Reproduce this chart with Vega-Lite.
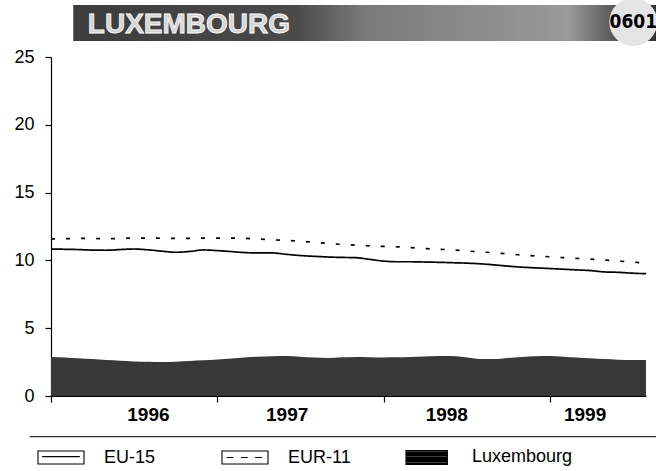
{
  "$schema": "https://vega.github.io/schema/vega-lite/v6.json",
  "width": 595,
  "height": 339,
  "autosize": {"type": "none"},
  "padding": {"left": 51, "top": 57, "right": 10, "bottom": 75},
  "background": "white",
  "config": {
    "view": {"stroke": null},
    "font": "Liberation Sans",
    "axis": {"grid": false, "domainColor": "black", "tickColor": "black", "labelColor": "black", "domainWidth": 1.2, "tickWidth": 1.2}
  },
  "datasets": {
    "rates": [
      {"date": "1996-01-01", "EU-15": 10.84, "EUR-11": 11.58, "Luxembourg": 2.88},
      {"date": "1996-02-01", "EU-15": 10.82, "EUR-11": 11.6, "Luxembourg": 2.84},
      {"date": "1996-03-01", "EU-15": 10.8, "EUR-11": 11.62, "Luxembourg": 2.78},
      {"date": "1996-04-01", "EU-15": 10.76, "EUR-11": 11.62, "Luxembourg": 2.72},
      {"date": "1996-05-01", "EU-15": 10.75, "EUR-11": 11.6, "Luxembourg": 2.65},
      {"date": "1996-06-01", "EU-15": 10.8, "EUR-11": 11.62, "Luxembourg": 2.6},
      {"date": "1996-07-01", "EU-15": 10.84, "EUR-11": 11.65, "Luxembourg": 2.55},
      {"date": "1996-08-01", "EU-15": 10.78, "EUR-11": 11.65, "Luxembourg": 2.52},
      {"date": "1996-09-01", "EU-15": 10.68, "EUR-11": 11.63, "Luxembourg": 2.5},
      {"date": "1996-10-01", "EU-15": 10.6, "EUR-11": 11.62, "Luxembourg": 2.53},
      {"date": "1996-11-01", "EU-15": 10.66, "EUR-11": 11.62, "Luxembourg": 2.58},
      {"date": "1996-12-01", "EU-15": 10.77, "EUR-11": 11.64, "Luxembourg": 2.63},
      {"date": "1997-01-01", "EU-15": 10.72, "EUR-11": 11.65, "Luxembourg": 2.7},
      {"date": "1997-02-01", "EU-15": 10.65, "EUR-11": 11.65, "Luxembourg": 2.77},
      {"date": "1997-03-01", "EU-15": 10.58, "EUR-11": 11.63, "Luxembourg": 2.84},
      {"date": "1997-04-01", "EU-15": 10.55, "EUR-11": 11.58, "Luxembourg": 2.9},
      {"date": "1997-05-01", "EU-15": 10.55, "EUR-11": 11.52, "Luxembourg": 2.94},
      {"date": "1997-06-01", "EU-15": 10.45, "EUR-11": 11.47, "Luxembourg": 2.95},
      {"date": "1997-07-01", "EU-15": 10.36, "EUR-11": 11.42, "Luxembourg": 2.9},
      {"date": "1997-08-01", "EU-15": 10.3, "EUR-11": 11.33, "Luxembourg": 2.84},
      {"date": "1997-09-01", "EU-15": 10.25, "EUR-11": 11.25, "Luxembourg": 2.8},
      {"date": "1997-10-01", "EU-15": 10.22, "EUR-11": 11.18, "Luxembourg": 2.85},
      {"date": "1997-11-01", "EU-15": 10.2, "EUR-11": 11.12, "Luxembourg": 2.88},
      {"date": "1997-12-01", "EU-15": 10.08, "EUR-11": 11.07, "Luxembourg": 2.86},
      {"date": "1998-01-01", "EU-15": 9.95, "EUR-11": 11.03, "Luxembourg": 2.84},
      {"date": "1998-02-01", "EU-15": 9.9, "EUR-11": 11.0, "Luxembourg": 2.85},
      {"date": "1998-03-01", "EU-15": 9.9, "EUR-11": 10.95, "Luxembourg": 2.88},
      {"date": "1998-04-01", "EU-15": 9.88, "EUR-11": 10.88, "Luxembourg": 2.92},
      {"date": "1998-05-01", "EU-15": 9.86, "EUR-11": 10.82, "Luxembourg": 2.95},
      {"date": "1998-06-01", "EU-15": 9.83, "EUR-11": 10.78, "Luxembourg": 2.95},
      {"date": "1998-07-01", "EU-15": 9.8, "EUR-11": 10.7, "Luxembourg": 2.85},
      {"date": "1998-08-01", "EU-15": 9.75, "EUR-11": 10.63, "Luxembourg": 2.72},
      {"date": "1998-09-01", "EU-15": 9.67, "EUR-11": 10.56, "Luxembourg": 2.72},
      {"date": "1998-10-01", "EU-15": 9.58, "EUR-11": 10.48, "Luxembourg": 2.8},
      {"date": "1998-11-01", "EU-15": 9.5, "EUR-11": 10.4, "Luxembourg": 2.88},
      {"date": "1998-12-01", "EU-15": 9.45, "EUR-11": 10.33, "Luxembourg": 2.94},
      {"date": "1999-01-01", "EU-15": 9.4, "EUR-11": 10.27, "Luxembourg": 2.95},
      {"date": "1999-02-01", "EU-15": 9.35, "EUR-11": 10.2, "Luxembourg": 2.9},
      {"date": "1999-03-01", "EU-15": 9.3, "EUR-11": 10.15, "Luxembourg": 2.84},
      {"date": "1999-04-01", "EU-15": 9.25, "EUR-11": 10.1, "Luxembourg": 2.78},
      {"date": "1999-05-01", "EU-15": 9.15, "EUR-11": 10.03, "Luxembourg": 2.72},
      {"date": "1999-06-01", "EU-15": 9.12, "EUR-11": 9.95, "Luxembourg": 2.68},
      {"date": "1999-07-01", "EU-15": 9.06, "EUR-11": 9.88, "Luxembourg": 2.66},
      {"date": "1999-08-01", "EU-15": 9.02, "EUR-11": 9.8, "Luxembourg": 2.65}
    ],
    "one": [{}]
  },
  "layer": [
    {
      "data": {"name": "one"},
      "mark": {"type": "rect", "fill": {"x1": 0, "y1": 0, "x2": 1, "y2": 0, "gradient": "linear", "stops": [
        {"offset": 0, "color": "#3c3c3c"}, {"offset": 0.38, "color": "#4a4a4a"}, {"offset": 0.5, "color": "#7a7a7a"}, {"offset": 0.85, "color": "#9a9a9a"}, {"offset": 0.93, "color": "#555555"}, {"offset": 1, "color": "#333333"}]}},
      "encoding": {
        "x": {"datum": {"year": 1996, "month": 2, "date": 19, "utc": true}, "type": "temporal"},
        "x2": {"datum": {"year": 1999, "month": 8, "date": 25, "utc": true}},
        "y": {"datum": 28.83, "type": "quantitative"},
        "y2": {"datum": 26.18}
      }
    },
    {
      "data": {"name": "one"},
      "mark": {"type": "point", "shape": "circle", "filled": true, "color": "#e4e4e4", "opacity": 1, "size": 2300},
      "encoding": {
        "x": {"datum": {"year": 1999, "month": 7, "date": 4, "utc": true}, "type": "temporal"},
        "y": {"datum": 27.58, "type": "quantitative"}
      }
    },
    {
      "data": {"name": "one"},
      "mark": {"type": "text", "text": "LUXEMBOURG", "font": "Liberation Sans", "fontWeight": "bold", "fontSize": 28, "align": "left", "baseline": "alphabetic", "fill": "#d4d4d4", "stroke": "white", "strokeWidth": 0.8},
      "encoding": {
        "x": {"datum": {"year": 1996, "month": 3, "date": 22, "utc": true}, "type": "temporal"},
        "y": {"datum": 26.77, "type": "quantitative"}
      }
    },
    {
      "data": {"name": "one"},
      "mark": {"type": "text", "text": "0601", "font": "DejaVu Sans Condensed, Liberation Sans", "fontWeight": "bold", "fontSize": 19, "align": "center", "baseline": "middle", "color": "black"},
      "encoding": {
        "x": {"datum": {"year": 1999, "month": 7, "date": 4, "utc": true}, "type": "temporal"},
        "y": {"datum": 27.58, "type": "quantitative"}
      }
    },
    {
      "data": {"name": "rates"},
      "transform": [{"fold": ["Luxembourg"], "as": ["series", "value"]}],
      "mark": {"type": "area", "color": "#383838", "interpolate": "monotone"},
      "encoding": {
        "x": {
          "field": "date", "type": "temporal",
          "scale": {"type": "utc", "domain": [{"year": 1996, "month": 1, "date": 1, "utc": true}, {"year": 1999, "month": 8, "date": 1, "utc": true}]},
          "axis": {
            "title": null,
            "values": [
              {"year": 1996, "month": 1, "date": 1, "utc": true},
              {"year": 1997, "month": 1, "date": 1, "utc": true},
              {"year": 1998, "month": 1, "date": 1, "utc": true},
              {"year": 1999, "month": 1, "date": 1, "utc": true},
              {"year": 1996, "month": 8, "date": 1, "utc": true},
              {"year": 1997, "month": 6, "date": 2, "utc": true},
              {"year": 1998, "month": 5, "date": 19, "utc": true},
              {"year": 1999, "month": 3, "date": 19, "utc": true}
            ],
            "labelExpr": "(utcmonth(datum.value) === 0 && utcdate(datum.value) === 1) ? '' : utcFormat(datum.value, '%Y')",
            "tickOpacity": {"condition": {"test": "utcmonth(datum.value) === 0 && utcdate(datum.value) === 1", "value": 1}, "value": 0},
            "tickSize": 6,
            "labelOverlap": false,
            "labelFont": "Liberation Sans",
            "labelFontWeight": "bold",
            "labelFontSize": 19,
            "labelPadding": 3,
            "labelFlush": false
          }
        },
        "y": {
          "field": "value", "type": "quantitative",
          "scale": {"domain": [0, 25], "nice": false},
          "axis": {"title": null, "values": [0, 5, 10, 15, 20, 25], "tickSize": 6, "labelFontSize": 18, "labelPadding": 11, "labelFont": "Liberation Sans"}
        }
      }
    },
    {
      "data": {"name": "rates"},
      "transform": [{"fold": ["EU-15", "EUR-11"], "as": ["series", "value"]}],
      "mark": {"type": "line", "color": "black", "strokeWidth": 1.7, "interpolate": "monotone"},
      "encoding": {
        "x": {"field": "date", "type": "temporal"},
        "y": {"field": "value", "type": "quantitative"},
        "strokeDash": {"field": "series", "type": "nominal", "scale": {"domain": ["EU-15", "EUR-11"], "range": [[1, 0], [4, 11]]}, "legend": null}
      }
    },
    {
      "data": {"name": "one"},
      "mark": {"type": "rule", "color": "black", "strokeWidth": 1},
      "encoding": {
        "x": {"datum": {"year": 1995, "month": 11, "date": 15, "utc": true}, "type": "temporal"},
        "x2": {"datum": {"year": 1999, "month": 9, "date": 12, "utc": true}},
        "y": {"datum": -3.0, "type": "quantitative"}
      }
    },
    {
      "data": {"name": "rates"},
      "transform": [{"fold": ["EU-15", "EUR-11", "Luxembourg"], "as": ["series", "value"]}, {"filter": "false"}],
      "mark": {"type": "point", "filled": false, "color": "black", "size": 2116, "opacity": 1, "strokeWidth": 1},
      "encoding": {
        "shape": {
          "field": "series", "type": "nominal",
          "scale": {"domain": ["EU-15", "EUR-11", "Luxembourg"], "range": [
            "M-1,-0.28H1V0.28H-1Z M-0.82,-0.04H0.82",
            "M-1,-0.28H1V0.28H-1Z M-0.8,0H-0.5 M-0.18,0H0.12 M0.44,0H0.74",
            "M-1,-0.3H0.8V0.3H-1Z M-1,-0.25H0.8 M-1,-0.2H0.8 M-1,-0.15H0.8 M-1,-0.1H0.8 M-1,-0.05H0.8 M-1,0H0.8 M-1,0.05H0.8 M-1,0.1H0.8 M-1,0.15H0.8 M-1,0.2H0.8 M-1,0.25H0.8"
          ]},
          "legend": {
            "title": null, "orient": "none", "legendX": -14, "legendY": 376, "direction": "horizontal",
            "gridAlign": "all", "columnPadding": 14, "symbolSize": 2116, "symbolStrokeColor": "black", "symbolStrokeWidth": 1.1, "symbolFillColor": "white",
            "labelFontSize": 18, "labelFont": "Liberation Sans", "labelColor": "black", "labelOffset": 19, "padding": 0, "symbolOpacity": 1
          }
        }
      }
    }
  ]
}
